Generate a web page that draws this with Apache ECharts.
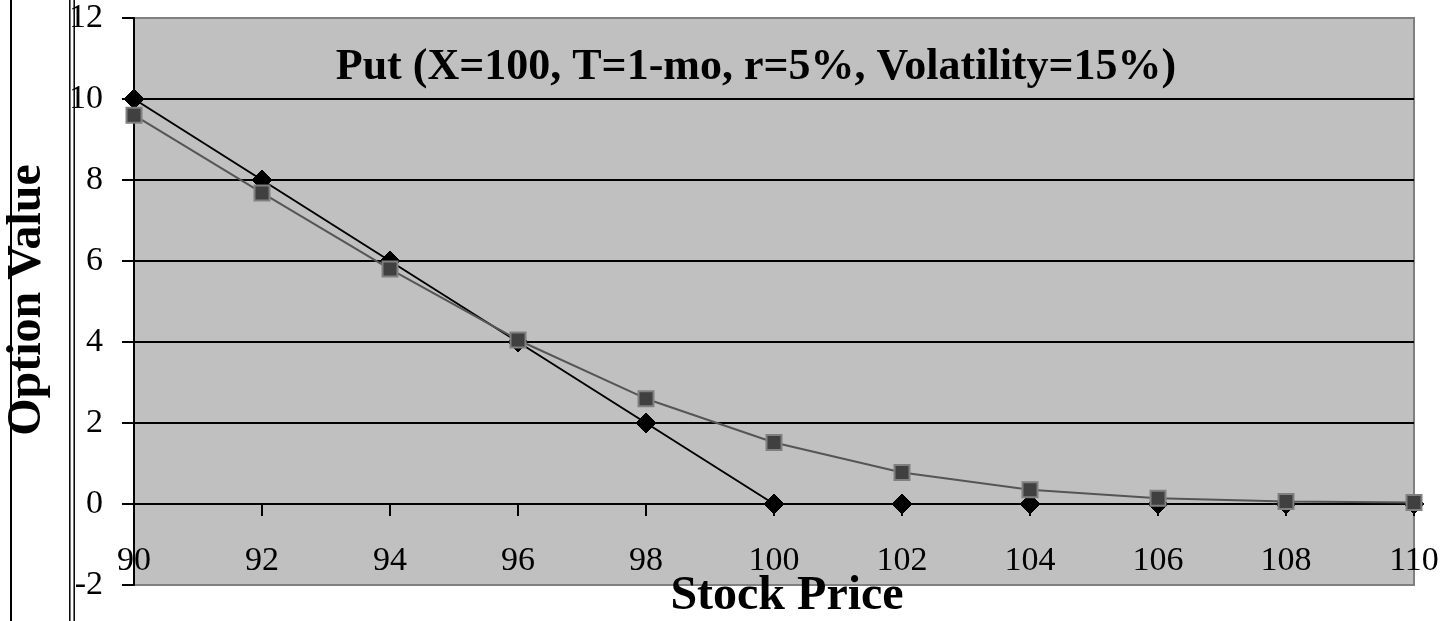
<!DOCTYPE html>
<html><head><meta charset="utf-8">
<script src="https://cdn.jsdelivr.net/npm/echarts@6/dist/echarts.min.js"></script>
<style>html,body{margin:0;padding:0;background:#fff}#c{width:1445px;height:621px}</style>
</head><body><div id="c"></div>
<script>
// ---- data ----
const stockPrice = [90, 92, 94, 96, 98, 100, 102, 104, 106, 108, 110];
const intrinsicValue = [10, 8, 6, 4, 2, 0, 0, 0, 0, 0, 0];
const putValue = [9.6, 7.68, 5.8, 4.05, 2.6, 1.52, 0.78, 0.35, 0.14, 0.06, 0.04];
const xTickLabels = [90, 92, 94, 96, 98, 100, 102, 104, 106, 108, 110];
const yTickLabels = [-2, 0, 2, 4, 6, 8, 10, 12];
const chartTitle = 'Put (X=100, T=1-mo, r=5%, Volatility=15%)';
const xAxisTitle = 'Stock Price';
const yAxisTitle = 'Option Value';

const FONT = '"Liberation Serif", "Times New Roman", serif';
const chart = echarts.init(document.getElementById('c'), null, {renderer: 'canvas'});

const gridColors = yTickLabels.map((v, i) => (i === 0 || i === yTickLabels.length - 1) ? '#808080' : '#000000');

chart.setOption({
  animation: false,
  backgroundColor: '#ffffff',
  grid: {
    left: 134, right: 31, top: 18, bottom: 36,
    show: true, backgroundColor: '#c0c0c0', borderColor: '#808080', borderWidth: 2,
    outerBoundsMode: 'none', containLabel: false
  },
  xAxis: {
    type: 'value',
    position: 'bottom',
    offset: -81,
    min: xTickLabels[0], max: xTickLabels[xTickLabels.length - 1], interval: 2,
    axisLine: {show: true, onZero: false, lineStyle: {color: '#000', width: 2}},
    axisTick: {show: true, inside: false, length: 12, lineStyle: {color: '#000', width: 2}},
    axisLabel: {show: true, margin: 40, showMinLabel: true, showMaxLabel: true, hideOverlap: false,
      color: '#000', fontFamily: FONT, fontSize: 34},
    splitLine: {show: false}
  },
  yAxis: {
    type: 'value',
    min: yTickLabels[0], max: yTickLabels[yTickLabels.length - 1], interval: 2,
    axisLine: {show: true, onZero: false, lineStyle: {color: '#000', width: 2}},
    axisTick: {show: true, inside: false, length: 12, lineStyle: {color: '#000', width: 2}},
    axisLabel: {show: true, margin: 31, showMinLabel: true, showMaxLabel: true, hideOverlap: false,
      color: '#000', fontFamily: FONT, fontSize: 34},
    splitLine: {show: true, showMinLine: true, showMaxLine: true, lineStyle: {color: gridColors, width: 2}}
  },
  series: [
    {
      name: 'Intrinsic Value',
      type: 'line',
      data: stockPrice.map((x, i) => [x, intrinsicValue[i]]),
      symbol: 'diamond', symbolSize: 20,
      lineStyle: {color: '#000', width: 2},
      itemStyle: {color: '#000', borderColor: '#000', borderWidth: 1},
      clip: false, z: 3
    },
    {
      name: 'Put Value',
      type: 'line',
      data: stockPrice.map((x, i) => [x, putValue[i]]),
      symbol: 'rect', symbolSize: 15,
      lineStyle: {color: '#555555', width: 2},
      itemStyle: {color: '#404040', borderColor: '#808080', borderWidth: 2},
      clip: false, z: 4
    }
  ],
  graphic: [
    {type: 'line', z: -1, shape: {x1: 11, y1: 0, x2: 11, y2: 621}, style: {stroke: '#000', lineWidth: 2}},
    {type: 'line', z: -1, shape: {x1: 69.8, y1: 0, x2: 69.8, y2: 621}, style: {stroke: '#000', lineWidth: 1.5}},
    {type: 'line', z: -1, shape: {x1: 74.2, y1: 0, x2: 74.2, y2: 621}, style: {stroke: '#000', lineWidth: 1.5}},
    {type: 'text', z: 10, x: 756, y: 68,
      style: {text: chartTitle, font: 'bold 44px ' + FONT, fill: '#000', align: 'center', verticalAlign: 'middle'}},
    {type: 'text', z: 10, x: 787, y: 597,
      style: {text: xAxisTitle, font: 'bold 48px ' + FONT, fill: '#000', align: 'center', verticalAlign: 'middle'}},
    {type: 'text', z: 10, x: 28, y: 300, rotation: Math.PI / 2,
      style: {text: yAxisTitle, font: 'bold 48px ' + FONT, fill: '#000', align: 'center', verticalAlign: 'middle'}}
  ]
});
</script>
</body></html>
